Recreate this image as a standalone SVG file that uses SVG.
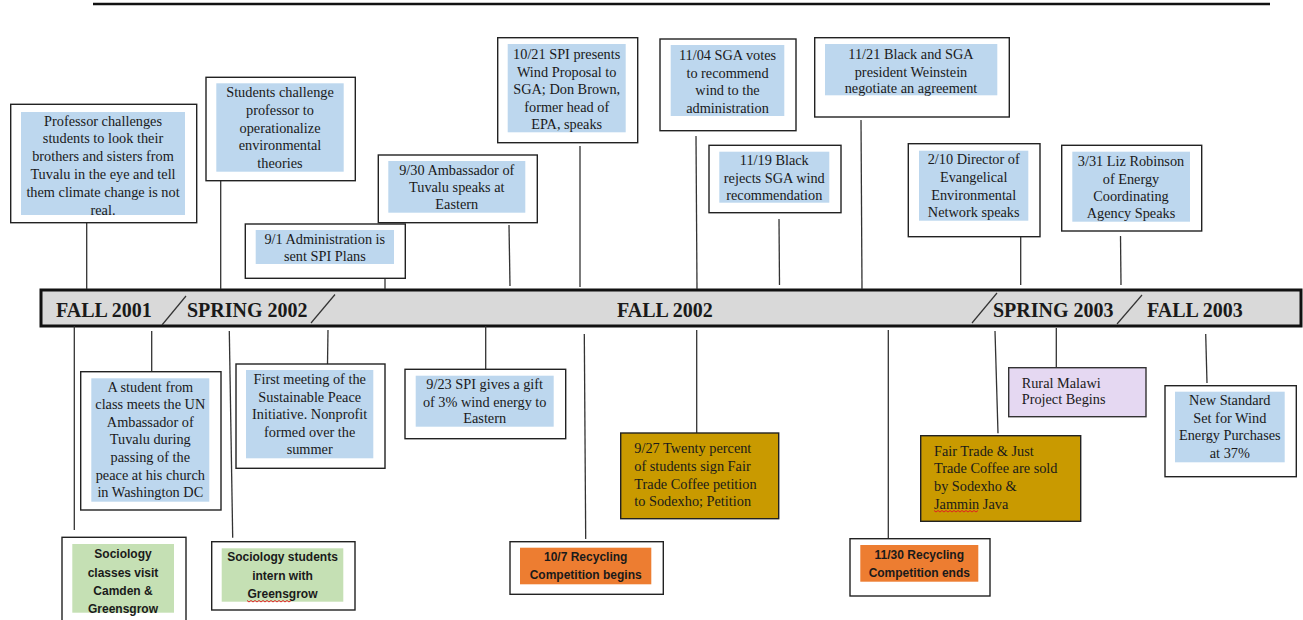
<svg xmlns="http://www.w3.org/2000/svg" width="1303" height="620" viewBox="0 0 1303 620">
<style>
.box{fill:#fff;stroke:#222;stroke-width:1.4}
.blue{fill:#bdd7ee}
.green{fill:#c5e0b4}
.orange{fill:#ed7d31}
.gold{fill:#c99a00;stroke:#222;stroke-width:1.4}
.lav{fill:#e5d8f2;stroke:#333;stroke-width:1.4}
.t{font-family:"Liberation Serif","Times New Roman",serif;font-size:14.3px;fill:#1a1a1a;text-anchor:middle}
.tl{font-family:"Liberation Serif","Times New Roman",serif;font-size:14.3px;fill:#1a1a1a;text-anchor:start}
.s{font-family:"Liberation Sans",Arial,sans-serif;font-size:12px;font-weight:bold;fill:#1a1a1a;text-anchor:middle}
.era{font-family:"Liberation Serif","Times New Roman",serif;font-size:20px;font-weight:bold;fill:#1a1a1a}
.c line{stroke:#333;stroke-width:1.3}
.sp{fill:none;stroke:#e02020;stroke-width:1}
</style>

<line x1="93" y1="4" x2="1270" y2="4" stroke="#111" stroke-width="2.5"/>

<g id="timeline">
<rect x="41" y="290" width="1260" height="36" fill="#d9d9d9" stroke="#111" stroke-width="3"/>
<line x1="162" y1="325" x2="186" y2="296" stroke="#333" stroke-width="1.2"/>
<line x1="311" y1="323" x2="335" y2="294.5" stroke="#333" stroke-width="1.2"/>
<line x1="972" y1="323" x2="997" y2="293" stroke="#333" stroke-width="1.2"/>
<line x1="1117" y1="324" x2="1142" y2="295" stroke="#333" stroke-width="1.2"/>
<text class="era" x="56" y="317">FALL 2001</text>
<text class="era" x="187" y="317">SPRING 2002</text>
<text class="era" x="617" y="317">FALL 2002</text>
<text class="era" x="993" y="317">SPRING 2003</text>
<text class="era" x="1147" y="317">FALL 2003</text>
</g>

<g id="connectors" class="c">
<line x1="86.7" y1="222.7" x2="86.7" y2="289"/>
<line x1="220.7" y1="180.7" x2="220.7" y2="289"/>
<line x1="385" y1="278.3" x2="385" y2="289"/>
<line x1="509" y1="225" x2="510" y2="286"/>
<line x1="580" y1="146" x2="580" y2="287"/>
<line x1="696" y1="136" x2="697" y2="289"/>
<line x1="779" y1="219" x2="779.5" y2="285"/>
<line x1="861" y1="120" x2="862" y2="289"/>
<line x1="1020.7" y1="236.7" x2="1020.7" y2="285"/>
<line x1="1120.5" y1="236" x2="1121" y2="285"/>
<line x1="74.3" y1="326" x2="74.3" y2="530"/>
<line x1="151.7" y1="331" x2="151.7" y2="371.7"/>
<line x1="229.3" y1="331" x2="232.7" y2="537.7"/>
<line x1="328" y1="330" x2="327.5" y2="364"/>
<line x1="485.7" y1="326" x2="485.7" y2="369.3"/>
<line x1="584.3" y1="334" x2="585.7" y2="539"/>
<line x1="696.7" y1="330" x2="696.7" y2="433"/>
<line x1="888.3" y1="330" x2="888.3" y2="538.7"/>
<line x1="995" y1="331" x2="998" y2="433.3"/>
<line x1="1056.3" y1="328" x2="1056.3" y2="367.7"/>
<line x1="1205.7" y1="334" x2="1207" y2="383"/>
</g>

<g id="n1">
<rect class="box" x="10.7" y="104.3" width="186" height="118.4"/>
<rect class="blue" x="21" y="112" width="164" height="103"/>
<text class="t" x="103" y="125.5">Professor challenges</text>
<text class="t" x="103" y="143.3">students to look their</text>
<text class="t" x="103" y="161.1">brothers and sisters from</text>
<text class="t" x="103" y="178.9">Tuvalu in the eye and tell</text>
<text class="t" x="103" y="196.7">them climate change is not</text>
<text class="t" x="103" y="214.5">real.</text>
</g>

<g id="n2">
<rect class="box" x="206" y="77.3" width="149.3" height="103.4"/>
<rect class="blue" x="216.3" y="83.3" width="127.4" height="88.4"/>
<text class="t" x="280" y="97.3">Students challenge</text>
<text class="t" x="280" y="114.9">professor to</text>
<text class="t" x="280" y="132.5">operationalize</text>
<text class="t" x="280" y="150.1">environmental</text>
<text class="t" x="280" y="167.7">theories</text>
</g>

<g id="n3">
<rect class="box" x="245.3" y="224" width="160" height="54.3"/>
<rect class="blue" x="255.7" y="230" width="138.3" height="34"/>
<text class="t" x="324.8" y="244">9/1 Administration is</text>
<text class="t" x="324.8" y="260.5">sent SPI Plans</text>
</g>

<g id="n4">
<rect class="box" x="378.3" y="155" width="159" height="67.7"/>
<rect class="blue" x="388.3" y="161" width="137" height="51.7"/>
<text class="t" x="456.8" y="175">9/30 Ambassador of</text>
<text class="t" x="456.8" y="192">Tuvalu speaks at</text>
<text class="t" x="456.8" y="209">Eastern</text>
</g>

<g id="n5">
<rect class="box" x="497.7" y="37.7" width="140" height="105"/>
<rect class="blue" x="507.7" y="44" width="118" height="88.3"/>
<text class="t" x="566.7" y="59">10/21 SPI presents</text>
<text class="t" x="566.7" y="76.7">Wind Proposal to</text>
<text class="t" x="566.7" y="94.4">SGA; Don Brown,</text>
<text class="t" x="566.7" y="112.1">former head of</text>
<text class="t" x="566.7" y="129">EPA, speaks</text>
</g>

<g id="n6">
<rect class="box" x="660" y="39" width="136" height="91.7"/>
<rect class="blue" x="670.7" y="45" width="113.6" height="71"/>
<text class="t" x="727.5" y="60">11/04 SGA votes</text>
<text class="t" x="727.5" y="77.7">to recommend</text>
<text class="t" x="727.5" y="95.2">wind to the</text>
<text class="t" x="727.5" y="112.7">administration</text>
</g>

<g id="n7">
<rect class="box" x="709" y="145.3" width="132" height="67.4"/>
<rect class="blue" x="719.3" y="151.7" width="110" height="51"/>
<text class="t" x="774.3" y="165">11/19 Black</text>
<text class="t" x="774.3" y="182.5">rejects SGA wind</text>
<text class="t" x="774.3" y="200">recommendation</text>
</g>

<g id="n8">
<rect class="box" x="814.7" y="37.7" width="194.6" height="79.3"/>
<rect class="blue" x="825" y="44" width="172.3" height="51.3"/>
<text class="t" x="911" y="59">11/21 Black and SGA</text>
<text class="t" x="911" y="76.5">president Weinstein</text>
<text class="t" x="911" y="93">negotiate an agreement</text>
</g>

<g id="n9">
<rect class="box" x="908.3" y="143.7" width="131.7" height="93"/>
<rect class="blue" x="919" y="150.7" width="109.3" height="70"/>
<text class="t" x="973.7" y="164.3">2/10 Director of</text>
<text class="t" x="973.7" y="182">Evangelical</text>
<text class="t" x="973.7" y="199.7">Environmental</text>
<text class="t" x="973.7" y="217.4">Network speaks</text>
</g>

<g id="n10">
<rect class="box" x="1061.7" y="145.3" width="140" height="85.7"/>
<rect class="blue" x="1072.3" y="151.7" width="117.7" height="70"/>
<text class="t" x="1131" y="166">3/31 Liz Robinson</text>
<text class="t" x="1131" y="183.5">of Energy</text>
<text class="t" x="1131" y="201">Coordinating</text>
<text class="t" x="1131" y="218.3">Agency Speaks</text>
</g>

<g id="n11">
<rect class="box" x="62" y="537.3" width="124" height="90"/>
<rect class="green" x="72.3" y="544" width="101.7" height="68.7"/>
<text class="s" x="123" y="557.8">Sociology</text>
<text class="s" x="123" y="576.5">classes visit</text>
<text class="s" x="123" y="595.2">Camden &amp;</text>
<text class="s" x="123" y="612.8">Greensgrow</text>
</g>

<g id="n12">
<rect class="box" x="80.7" y="371.7" width="140.3" height="138.3"/>
<rect class="blue" x="91.3" y="378.3" width="118" height="123.4"/>
<text class="t" x="150.3" y="391.5">A student from</text>
<text class="t" x="150.3" y="409.1">class meets the UN</text>
<text class="t" x="150.3" y="426.7">Ambassador of</text>
<text class="t" x="150.3" y="444.3">Tuvalu during</text>
<text class="t" x="150.3" y="461.9">passing of the</text>
<text class="t" x="150.3" y="479.5">peace at his church</text>
<text class="t" x="150.3" y="497.1">in Washington DC</text>
</g>

<g id="n13">
<rect class="box" x="211.7" y="541.7" width="143.3" height="68.3"/>
<rect class="green" x="221.7" y="548.3" width="121.6" height="53.4"/>
<text class="s" x="282.5" y="561.2">Sociology students</text>
<text class="s" x="282.5" y="579.7">intern with</text>
<text class="s" x="282.5" y="598">Greensgrow</text>
<path class="sp" d="M247 600.5 l2 1.5 l2 -1.5 l2 1.5 l2 -1.5 l2 1.5 l2 -1.5 l2 1.5 l2 -1.5 l2 1.5 l2 -1.5 l2 1.5 l2 -1.5 l2 1.5 l2 -1.5 l2 1.5 l2 -1.5 l2 1.5 l2 -1.5 l2 1.5 l2 -1.5 l2 1.5 l2 -1.5"/>
</g>

<g id="n14">
<rect class="box" x="236" y="364" width="149" height="104.3"/>
<rect class="blue" x="246" y="370" width="127.3" height="88.3"/>
<text class="t" x="309.7" y="384">First meeting of the</text>
<text class="t" x="309.7" y="401.6">Sustainable Peace</text>
<text class="t" x="309.7" y="419.2">Initiative. Nonprofit</text>
<text class="t" x="309.7" y="436.8">formed over the</text>
<text class="t" x="309.7" y="454.4">summer</text>
</g>

<g id="n15">
<rect class="box" x="405" y="369.3" width="160.7" height="69.4"/>
<rect class="blue" x="415.7" y="375.7" width="138" height="51"/>
<text class="t" x="484.7" y="389.3">9/23 SPI gives a gift</text>
<text class="t" x="484.7" y="406.5">of 3% wind energy to</text>
<text class="t" x="484.7" y="423">Eastern</text>
</g>

<g id="n16">
<rect class="box" x="510" y="541.7" width="153.3" height="52.6"/>
<rect class="orange" x="520" y="547.7" width="131.3" height="36.6"/>
<text class="s" x="585.7" y="561.2">10/7 Recycling</text>
<text class="s" x="585.7" y="578.8">Competition begins</text>
</g>

<g id="n17">
<rect class="gold" x="620.7" y="433" width="158" height="85.7"/>
<text class="tl" x="634.3" y="453.3">9/27 Twenty percent</text>
<text class="tl" x="634.3" y="470.9">of students sign Fair</text>
<text class="tl" x="634.3" y="488.5">Trade Coffee petition</text>
<text class="tl" x="634.3" y="506.1">to Sodexho; Petition</text>
</g>

<g id="n18">
<rect class="box" x="850" y="538.7" width="140" height="57.3"/>
<rect class="orange" x="860.3" y="545" width="118" height="36.7"/>
<text class="s" x="919.3" y="558.5">11/30 Recycling</text>
<text class="s" x="919.3" y="576.5">Competition ends</text>
</g>

<g id="n19">
<rect class="gold" x="920.7" y="435.7" width="160" height="85.6"/>
<text class="tl" x="934" y="455.7">Fair Trade &amp; Just</text>
<text class="tl" x="934" y="473.3">Trade Coffee are sold</text>
<text class="tl" x="934" y="490.9">by Sodexho &amp;</text>
<text class="tl" x="934" y="508.5">Jammin Java</text>
<path class="sp" d="M934 510.5 l2 1.5 l2 -1.5 l2 1.5 l2 -1.5 l2 1.5 l2 -1.5 l2 1.5 l2 -1.5 l2 1.5 l2 -1.5 l2 1.5 l2 -1.5 l2 1.5 l2 -1.5 l2 1.5 l2 -1.5 l2 1.5 l2 -1.5 l2 1.5 l2 -1.5 l2 1.5 l2 -1.5"/>
</g>

<g id="n20">
<rect class="lav" x="1008.7" y="367.7" width="137.3" height="49"/>
<text class="tl" x="1021.7" y="387.7">Rural Malawi</text>
<text class="tl" x="1021.7" y="404.3">Project Begins</text>
</g>

<g id="n21">
<rect class="box" x="1165" y="385.7" width="131.3" height="91"/>
<rect class="blue" x="1175" y="391.7" width="109.7" height="70.6"/>
<text class="t" x="1229.8" y="405">New Standard</text>
<text class="t" x="1229.8" y="422.6">Set for Wind</text>
<text class="t" x="1229.8" y="440.2">Energy Purchases</text>
<text class="t" x="1229.8" y="457.8">at 37%</text>
</g>
</svg>
